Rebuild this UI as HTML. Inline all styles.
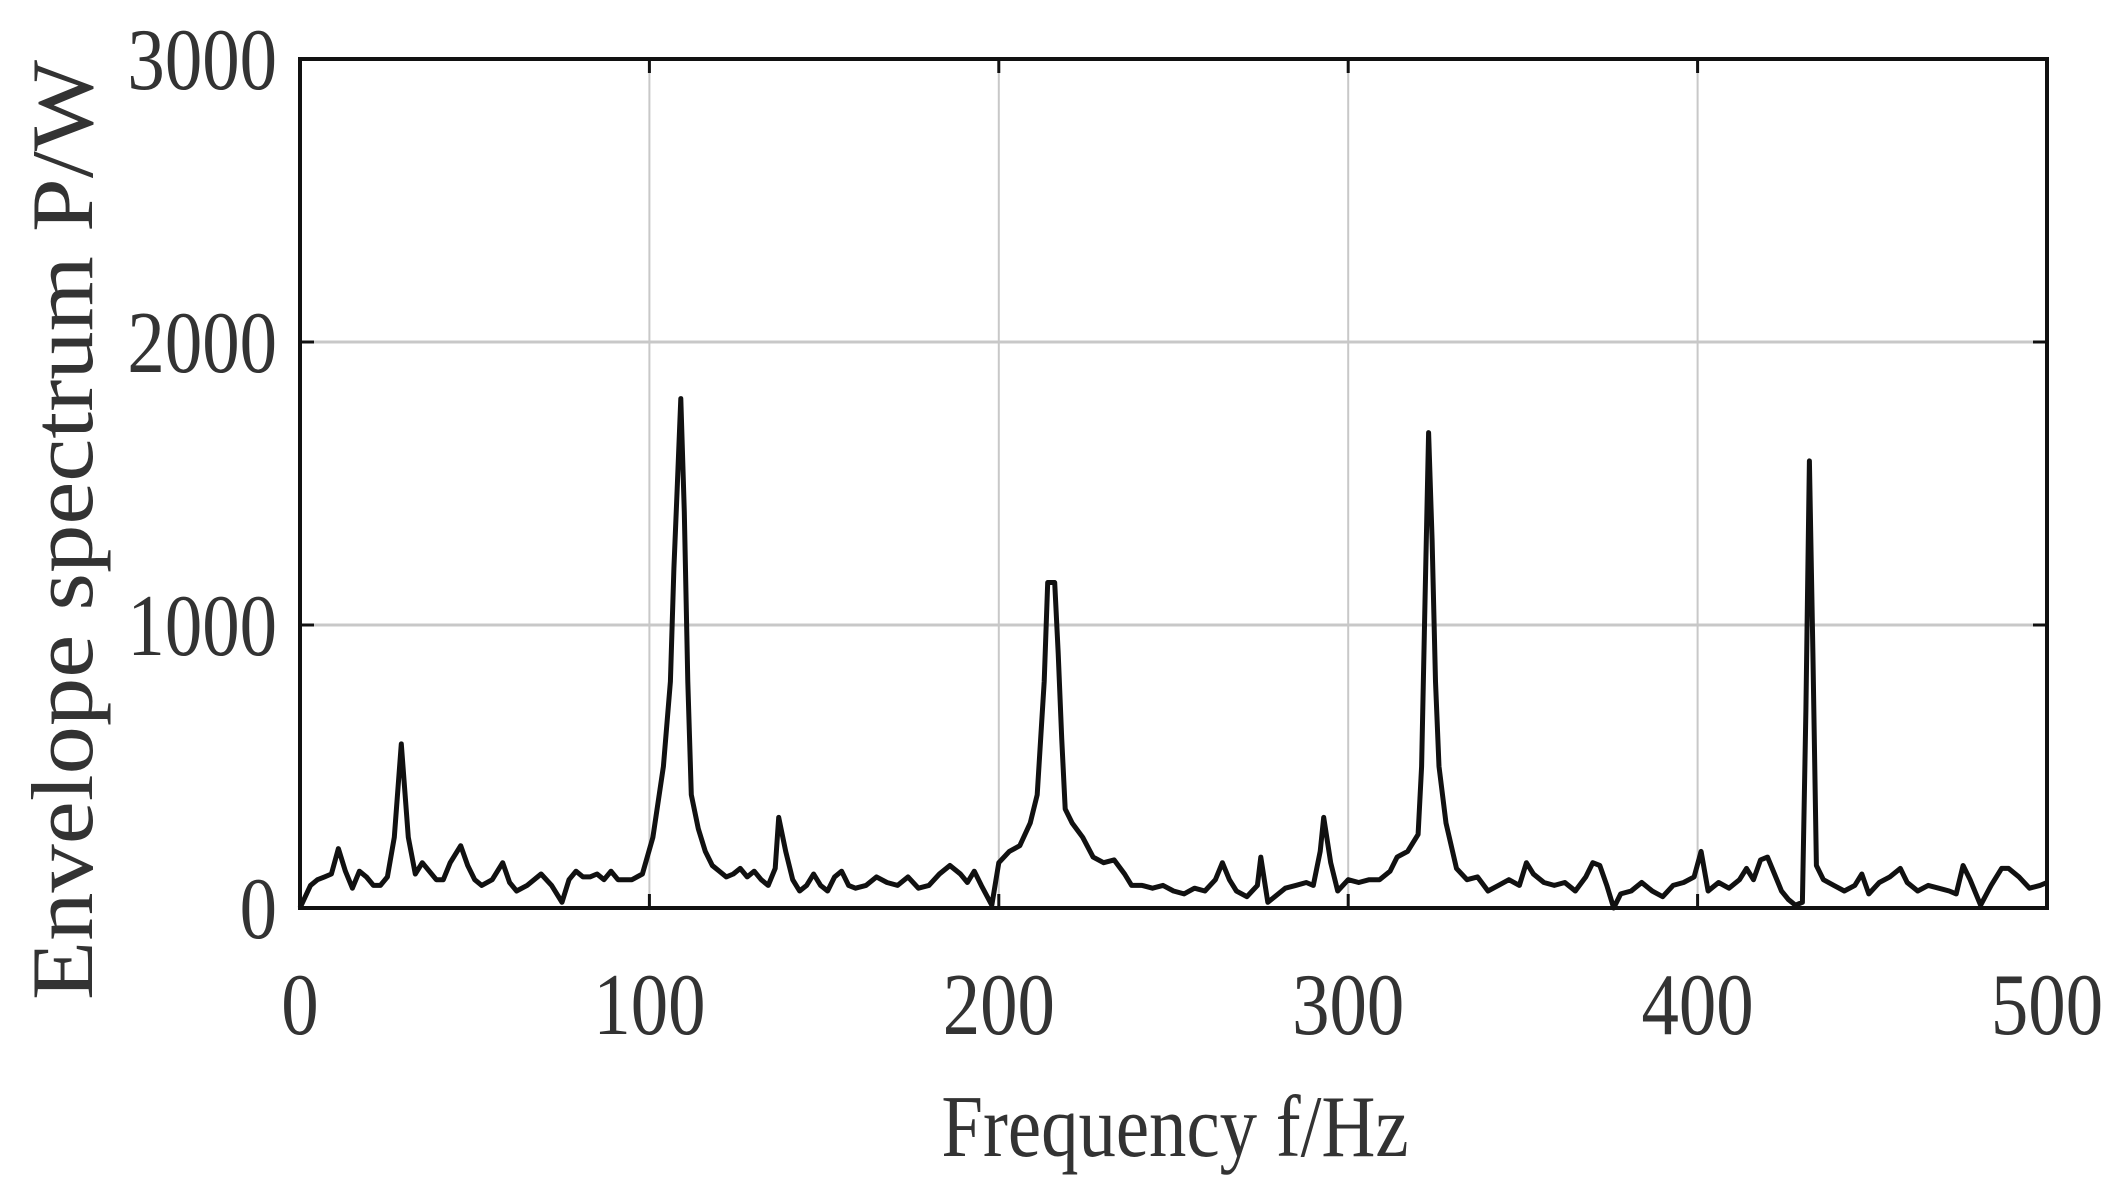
<!DOCTYPE html>
<html><head><meta charset="utf-8"><style>
html,body{margin:0;padding:0;background:#fff;}
svg{display:block;font-family:"Liberation Serif",serif;}
</style></head><body>
<svg id="chart" width="2120" height="1197" viewBox="0 0 2120 1197"></svg>
<script>
const freqs=[0,3,5,7,9,11,13,15,17,19,21,23,25,27,29,31,33,35,37,39,41,43,46,48,50,52,55,58,60,62,65,69,72,75,77,79,81,83,85,87,89,91,95,98,101,104,106,107,108,109,110,111,112,114,116,118,120,122,124,126,128,130,132,134,136,137,139,141,143,145,147,149,151,153,155,157,159,162,165,168,171,174,177,180,183,186,189,191,193,195,198,200,203,206,209,211,213,214,216,217,218,219,221,224,227,230,233,236,238,241,244,247,250,253,256,259,262,264,266,268,271,274,275,277,279,282,285,288,290,292,293,295,297,300,303,306,309,312,314,317,320,321,322,323,324,325,326,328,331,334,337,340,343,346,349,351,353,356,359,362,365,368,370,372,374,376,378,381,384,387,390,393,396,399,401,403,406,409,412,414,416,418,420,422,424,426,428,430,431,432,433,434,436,439,442,445,447,449,452,455,458,460,463,466,469,472,474,476,478,481,484,487,489,492,495,498,500];
const power=[0,80,100,110,120,210,130,70,130,110,80,80,110,250,580,250,120,160,130,100,100,160,220,150,100,80,100,160,90,60,80,120,80,20,100,130,110,110,120,100,130,100,100,120,250,500,800,1200,1500,1800,1400,800,400,280,200,150,130,110,120,140,110,130,100,80,140,320,200,100,60,80,120,80,60,110,130,80,70,80,110,90,80,110,70,80,120,150,120,90,130,80,10,160,200,220,300,400,800,1150,1150,900,600,350,300,250,180,160,170,120,80,80,70,80,60,50,70,60,100,160,100,60,40,80,180,20,40,70,80,90,80,200,320,160,60,100,90,100,100,130,180,200,260,500,1100,1680,1300,800,500,300,140,100,110,60,80,100,80,160,120,90,80,90,60,110,160,150,80,0,50,60,90,60,40,80,90,110,200,60,90,70,100,140,100,170,180,120,60,30,10,20,700,1580,900,150,100,80,60,80,120,50,90,110,140,90,60,80,70,60,50,150,100,10,80,140,140,110,70,80,90];
const xTicks=[0,100,200,300,400,500];
const yTicks=[0,1000,2000,3000];
const xMin=0,xMax=500,yMin=0,yMax=3000;
const L=300,R=2047,T=59,B=908;
const sx=v=>L+(v-xMin)/(xMax-xMin)*(R-L);
const sy=v=>B-(v-yMin)/(yMax-yMin)*(B-T);
const svg=document.getElementById('chart');
const NS='http://www.w3.org/2000/svg';
function mk(tag,attrs,parent){const e=document.createElementNS(NS,tag);for(const k in attrs)e.setAttribute(k,attrs[k]);(parent||svg).appendChild(e);return e;}
xTicks.forEach(t=>{if(t>xMin&&t<xMax){const g=mk('line',{x1:sx(t),x2:sx(t),y1:T,y2:B,stroke:'#c8c8c8','stroke-width':2});

}});
yTicks.forEach(t=>{if(t>yMin&&t<yMax){const g=mk('line',{x1:L,x2:R,y1:sy(t),y2:sy(t),stroke:'#c8c8c8','stroke-width':3});

}});
const d=freqs.map((f,i)=>(i?'L':'M')+sx(f).toFixed(1)+','+sy(power[i]).toFixed(1)).join(' ');
const p=mk('path',{d:d,fill:'none',stroke:'#111','stroke-width':5,'stroke-linejoin':'round'});


xTicks.forEach(t=>{
 const a=mk('line',{x1:sx(t),x2:sx(t),y1:B,y2:B-14,stroke:'#111','stroke-width':3});
 
 
 const b=mk('line',{x1:sx(t),x2:sx(t),y1:T,y2:T+14,stroke:'#111','stroke-width':3});
 
 
 const tx=mk('text',{x:0,y:0,'font-size':88,'text-anchor':'middle',fill:'#333',transform:`translate(${sx(t)},1034) scale(0.85,1)`});
 tx.textContent=t;
 
 
});
yTicks.forEach(t=>{
 const a=mk('line',{x1:L,x2:L+14,y1:sy(t),y2:sy(t),stroke:'#111','stroke-width':3});
 
 
 const b=mk('line',{x1:R,x2:R-14,y1:sy(t),y2:sy(t),stroke:'#111','stroke-width':3});
 
 
 const tx=mk('text',{x:0,y:0,'font-size':88,'text-anchor':'end',fill:'#333',transform:`translate(277,${sy(t)+30}) scale(0.85,1)`});
 tx.textContent=t;
 
 
});
const fr=mk('rect',{x:L,y:T,width:R-L,height:B-T,fill:'none',stroke:'#111','stroke-width':4});


const xt=mk('text',{x:0,y:0,'font-size':88,'text-anchor':'middle',fill:'#333',transform:'translate(1175,1156) scale(0.85,1)'});
xt.textContent='Frequency f/Hz';


const yt=mk('text',{x:0,y:0,'font-size':88,'text-anchor':'middle',fill:'#333',textLength:940,lengthAdjust:'spacingAndGlyphs','xml:space':'preserve',transform:'translate(92,530) rotate(-90)'});
yt.textContent='Envelope spectrum  P/W';


</script>
</body></html>
